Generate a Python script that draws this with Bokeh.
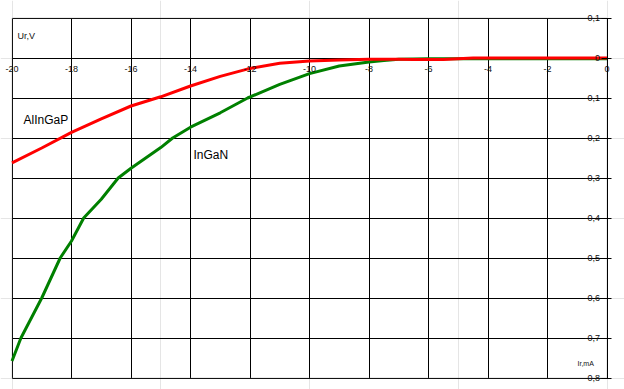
from bokeh.plotting import figure
from bokeh.models import LinearAxis, FixedTicker, Grid, CustomJSTickFormatter, Label, BoxAnnotation
from bokeh.embed import file_html
from bokeh.resources import INLINE

# Data (Ir in mA, Ur in V)
i_red = [-20, -19, -18, -17, -16, -15, -14, -13, -12, -11, -10, -9, -8, -7, -6.5, -5.5, -4.5, -3, -2, -1, 0]
v_red = [-0.262, -0.225, -0.186, -0.152, -0.120, -0.097, -0.070, -0.046, -0.026, -0.013, -0.0075,
         -0.005, -0.003, -0.003, -0.004, -0.004, 0.0, 0.0, 0.0, 0.0, 0.0]

i_green = [-20, -19.7, -19.0, -18.38, -18, -17.59, -17, -16.43, -16, -15, -14.6, -14,
           -13, -12.08, -12, -11, -10, -9, -8, -7.5, -7, -6, -4, -2, 0]
v_green = [-0.7575, -0.70, -0.60, -0.50, -0.4575, -0.40, -0.353, -0.30, -0.2757, -0.224, -0.20, -0.173,
           -0.137, -0.10, -0.0975, -0.066, -0.039, -0.02, -0.01, -0.006, -0.003, -0.002, -0.002,
           -0.002, -0.002]

x_ticks = [-20, -18, -16, -14, -12, -10, -8, -6, -4, -2, 0]
y_ticks = [-0.8, -0.7, -0.6, -0.5, -0.4, -0.3, -0.2, -0.1, 0.0, 0.1]

X0, X1 = -20, 0
Y0, Y1 = -0.8, 0.1

# layout: plot box on a 624x389 canvas (pixel edges)
W, H = 624, 389
L, R, T, B = 11.5, 606.5, 17.5, 377.5
sx = (R - L) / (X1 - X0)
sy = (B - T) / (Y1 - Y0)
xr = (X0 - L / sx, X1 + (W - R) / sx)
yr = (Y0 - (H - B) / sy, Y1 + T / sy)

p = figure(width=W, height=H, x_range=xr, y_range=yr,
           output_backend="svg", toolbar_location=None,
           x_axis_location=None, y_axis_location=None,
           min_border=0)
p.outline_line_color = None
p.background_fill_color = "white"
p.border_fill_color = "white"

fmt = CustomJSTickFormatter(code="return (Math.round(tick*10)/10).toString().replace('.', ',');")

xaxis = LinearAxis(fixed_location=0, bounds=(X0, X1), ticker=FixedTicker(ticks=x_ticks), formatter=fmt)
xaxis.axis_line_color = None
xaxis.major_tick_in = 0
xaxis.major_tick_out = 0
xaxis.minor_tick_line_color = None
xaxis.major_label_standoff = 8
xaxis.major_label_text_font = "Liberation Sans"
xaxis.major_label_text_font_size = "9px"
xaxis.major_label_text_color = "#111111"
p.add_layout(xaxis, "below")

yaxis = LinearAxis(fixed_location=0, bounds=(Y0, Y1), ticker=FixedTicker(ticks=y_ticks), formatter=fmt)
yaxis.axis_line_color = "black"
yaxis.major_tick_in = 4
yaxis.major_tick_out = 6
yaxis.major_tick_line_color = "#000000"
yaxis.minor_tick_line_color = None
yaxis.major_label_standoff = 1
yaxis.major_label_text_font = "Liberation Sans"
yaxis.major_label_text_font_size = "9px"
yaxis.major_label_text_color = "#111111"
p.add_layout(yaxis, "left")

p.add_layout(Grid(dimension=0, ticker=xaxis.ticker, grid_line_color="black", grid_line_width=1,
                  bounds=(X0, X1), cross_bounds=(Y0, Y1)))
p.add_layout(Grid(dimension=1, ticker=yaxis.ticker, grid_line_color="black", grid_line_width=1,
                  bounds=(Y0, Y1), cross_bounds=(X0, X1)))
p.add_layout(BoxAnnotation(left=X0, right=X1, bottom=Y0, top=Y1, fill_alpha=0,
                           line_color="#808080", line_width=1, level="underlay"))

p.line(i_green, v_green, line_color="#008000", line_width=3)
p.line(i_red, v_red, line_color="#ff0000", line_width=3)

p.add_layout(Label(x=17, y=H - 35, x_units="screen", y_units="screen", text="Ur,V",
                   text_font="Liberation Sans", text_font_size="9px", text_color="#111111",
                   text_baseline="alphabetic"))
p.add_layout(Label(x=577, y=H - 363, x_units="screen", y_units="screen", text="Ir,mA",
                   text_font="Liberation Sans", text_font_size="7px", text_color="#111111",
                   text_baseline="alphabetic"))
p.add_layout(Label(x=23, y=H - 119, x_units="screen", y_units="screen", text="AlInGaP",
                   text_font="Liberation Sans", text_font_size="12px", text_color="#000000",
                   text_baseline="alphabetic"))
p.add_layout(Label(x=193, y=H - 154, x_units="screen", y_units="screen", text="InGaN",
                   text_font="Liberation Sans", text_font_size="12px", text_color="#000000",
                   text_baseline="alphabetic"))

open("out.html", "w").write(file_html(p, INLINE))
